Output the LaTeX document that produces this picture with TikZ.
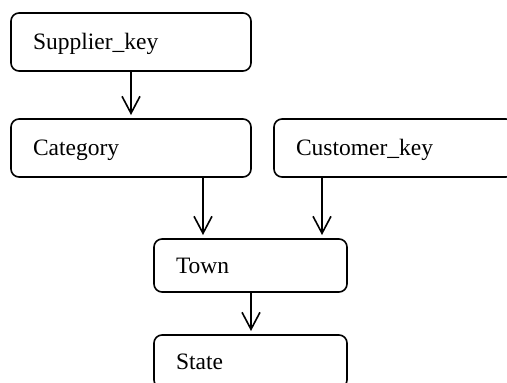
\documentclass[tikz,border=0pt]{standalone}
\usepackage{fontspec}
\setmainfont{Liberation Serif}
\usetikzlibrary{arrows.meta}
\begin{document}
\begin{tikzpicture}[x=1pt,y=-1pt,
  box/.style={draw=black, line width=1.6pt, rounded corners=8pt, outer sep=0pt,
    inner xsep=22pt, inner ysep=0pt, align=left, text height=15pt, text depth=0pt,
    font=\fontsize{23.5}{26}\selectfont, anchor=north west},
  wide/.style={box, text width=196pt, minimum height=58pt},
  small/.style={box, text width=149pt, minimum height=53pt},
  arr/.style={line width=1.6pt, -{Straight Barb[length=17pt,width=18pt,line width=1.6pt]}, shorten >=4pt}]
\useasboundingbox (0,0) rectangle (507,383);
\begin{scope}
\clip (0,0) rectangle (507,383);
\node[wide] (sup) at (11,13) {Supplier\_key};
\node[wide] (cat) at (11,119) {Category};
\node[wide] (cust) at (274,119) {Customer\_key};
\node[small] (town) at (154,239) {Town};
\node[small] (state) at (154,335) {State};
\end{scope}
\coordinate (c1) at ([xshift=72pt]cat.south);
\coordinate (c2) at ([xshift=-72pt]cust.south);
\coordinate (c3) at ([xshift=0.5pt]town.south);
\draw[arr] (sup.south) -- (cat.north);
\draw[arr] (c1) -- (c1 |- town.north);
\draw[arr] (c2) -- (c2 |- town.north);
\draw[arr] (c3) -- (c3 |- state.north);
\end{tikzpicture}
\end{document}
